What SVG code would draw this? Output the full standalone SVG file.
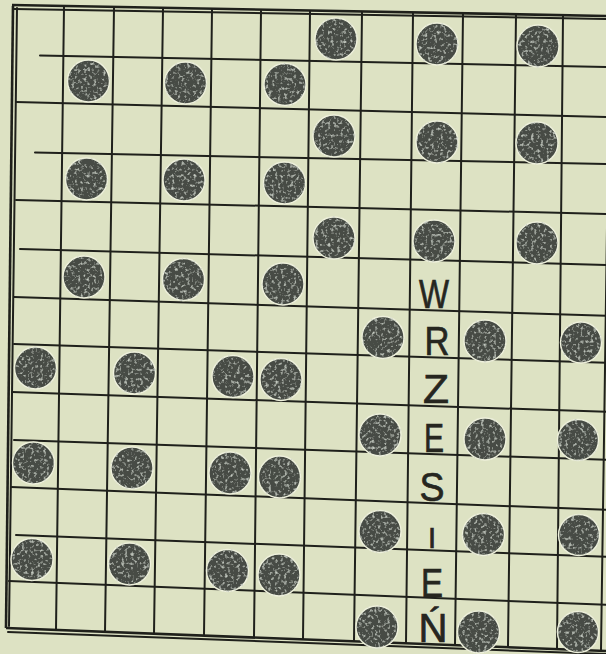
<svg xmlns="http://www.w3.org/2000/svg" width="606" height="654" viewBox="0 0 606 654">
<style>
.bg{fill:#dde2c3}
.ln{stroke:#1f201b;stroke-width:2;fill:none;stroke-linecap:round}
.bd{stroke:#1f201b;stroke-width:2.6;fill:none}
.dot{fill:#464c44;stroke:#eff1dd;stroke-width:1.4;filter:url(#speck)}
.lt{font-family:"Liberation Sans","DejaVu Sans",sans-serif;font-size:40px;fill:#26261f;stroke:#26261f;stroke-width:0.7;text-anchor:middle}
</style>
<defs>
<filter id="speck" x="-10%" y="-10%" width="120%" height="120%">
<feTurbulence type="fractalNoise" baseFrequency="0.32" numOctaves="2" seed="4" result="n"/>
<feColorMatrix in="n" type="matrix" values="0 0 0 0 0.56  0 0 0 0 0.6  0 0 0 0 0.54  3 0 0 0 -1.6" result="sp"/>
<feComposite in="sp" in2="SourceGraphic" operator="in" result="spin"/>
<feMerge><feMergeNode in="SourceGraphic"/><feMergeNode in="spin"/></feMerge>
</filter>
</defs>
<rect class="bg" x="0" y="0" width="606" height="654"/>
<g id="grid">
<path class="bd" d="M12 5 L610 16"/>
<path class="ln" d="M14 9 L610 19" stroke-width="1.2"/>
<path class="bd" d="M13 6 L6 628"/>
<path class="ln" d="M17 8 L9 626" stroke-width="1.4"/>
<path class="bd" d="M6 628 L606 651"/>
<path class="ln" d="M8 632 L606 654" stroke-width="1.2"/>
<path class="ln" d="M40 55.5 L610 67"/>
<path class="ln" d="M16 102 L610 117"/>
<path class="ln" d="M35 152.5 L610 164"/>
<path class="ln" d="M16 200 L610 214"/>
<path class="ln" d="M20 249 L610 265"/>
<path class="ln" d="M14 297 L610 316"/>
<path class="ln" d="M14 344 L610 363"/>
<path class="ln" d="M12 392 L610 412"/>
<path class="ln" d="M14 440 L610 460"/>
<path class="ln" d="M11 487 L610 510"/>
<path class="ln" d="M16 535 L610 557"/>
<path class="ln" d="M9 581 L610 605"/>
<path class="ln" d="M64 7 L56 630"/>
<path class="ln" d="M114 8 L105 632"/>
<path class="ln" d="M163 9 L154 633.5"/>
<path class="ln" d="M212 10 L204 635"/>
<path class="ln" d="M261 11 L254 637"/>
<path class="ln" d="M310 11.5 L303 639"/>
<path class="ln" d="M362 12.5 L354 641"/>
<path class="ln" d="M413 13.5 L406 643"/>
<path class="ln" d="M463 14 L455 644.5"/>
<path class="ln" d="M516 15 L508 646.5"/>
<path class="ln" d="M563 16 L557 648"/>
<path class="ln" d="M610 17 L601 650"/>
</g>
<g id="dots">
<circle class="dot" cx="336" cy="39" r="21"/>
<circle class="dot" cx="437" cy="44" r="21"/>
<circle class="dot" cx="538" cy="46" r="21"/>
<circle class="dot" cx="88.5" cy="81" r="21"/>
<circle class="dot" cx="185.5" cy="83" r="21"/>
<circle class="dot" cx="285" cy="84.5" r="21"/>
<circle class="dot" cx="334" cy="136" r="21"/>
<circle class="dot" cx="437" cy="142" r="21"/>
<circle class="dot" cx="537" cy="143" r="21"/>
<circle class="dot" cx="86.5" cy="179" r="21"/>
<circle class="dot" cx="184" cy="180" r="21"/>
<circle class="dot" cx="284.5" cy="183" r="21"/>
<circle class="dot" cx="334" cy="238" r="21"/>
<circle class="dot" cx="434" cy="241" r="21"/>
<circle class="dot" cx="537" cy="243" r="21"/>
<circle class="dot" cx="84" cy="277" r="21"/>
<circle class="dot" cx="183.5" cy="279.5" r="21"/>
<circle class="dot" cx="283" cy="284" r="21"/>
<circle class="dot" cx="383" cy="337.5" r="21"/>
<circle class="dot" cx="485" cy="341" r="21"/>
<circle class="dot" cx="581" cy="342.5" r="20.5"/>
<circle class="dot" cx="35.5" cy="368" r="21"/>
<circle class="dot" cx="134.5" cy="373" r="21"/>
<circle class="dot" cx="233" cy="376.5" r="21"/>
<circle class="dot" cx="281" cy="379.5" r="21"/>
<circle class="dot" cx="380" cy="435" r="21"/>
<circle class="dot" cx="485" cy="439" r="21"/>
<circle class="dot" cx="578" cy="440" r="20.5"/>
<circle class="dot" cx="33.5" cy="463" r="21"/>
<circle class="dot" cx="132" cy="468" r="21"/>
<circle class="dot" cx="230" cy="473" r="21"/>
<circle class="dot" cx="279.5" cy="477" r="21"/>
<circle class="dot" cx="380" cy="531.5" r="21"/>
<circle class="dot" cx="483.5" cy="534.5" r="21"/>
<circle class="dot" cx="579" cy="535" r="20.5"/>
<circle class="dot" cx="32" cy="559.5" r="21"/>
<circle class="dot" cx="129.5" cy="564" r="21"/>
<circle class="dot" cx="227.5" cy="570.5" r="21"/>
<circle class="dot" cx="279" cy="575" r="21"/>
<circle class="dot" cx="377" cy="627" r="21"/>
<circle class="dot" cx="478.5" cy="632" r="21"/>
<circle class="dot" cx="578" cy="632" r="20.5"/>
</g>
<g id="letters">
<text class="lt" x="434" y="308" textLength="30" lengthAdjust="spacingAndGlyphs">W</text>
<text class="lt" x="437" y="355" textLength="25" lengthAdjust="spacingAndGlyphs">R</text>
<text class="lt" x="436" y="403" textLength="26" lengthAdjust="spacingAndGlyphs">Z</text>
<text class="lt" x="434" y="452" textLength="20" lengthAdjust="spacingAndGlyphs">E</text>
<text class="lt" x="432" y="501" textLength="25" lengthAdjust="spacingAndGlyphs">S</text>
<text class="lt" x="432" y="548" style="font-size:29px">I</text>
<text class="lt" x="432" y="597" textLength="22" lengthAdjust="spacingAndGlyphs">E</text>
<text class="lt" x="433" y="642" textLength="29" lengthAdjust="spacingAndGlyphs">Ń</text>
</g>
</svg>
